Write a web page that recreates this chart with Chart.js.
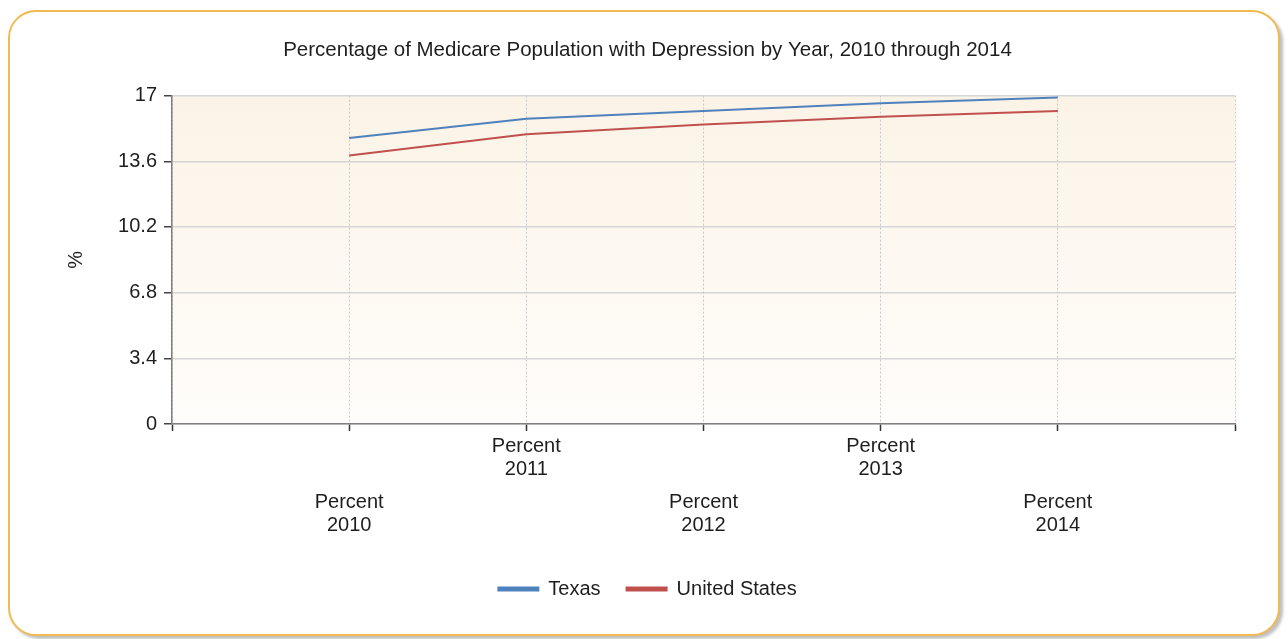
<!DOCTYPE html>
<html>
<head>
<meta charset="utf-8">
<script src="https://cdn.jsdelivr.net/npm/chart.js@4.4.1/dist/chart.umd.min.js"></script>
<style>
  html, body { margin: 0; padding: 0; background: #fff; }
  body { width: 1288px; height: 639px; position: relative; overflow: hidden; }
  .card {
    position: absolute; left: 8px; top: 10px; width: 1268px; height: 622px;
    border: 2px solid #f2ba52; border-radius: 28px; background: #fff;
    box-shadow: 3px 3px 3px rgba(0,0,0,0.25);
  }
  #chart { position: absolute; left: 0; top: 0; }
</style>
</head>
<body>
<div class="card"></div>
<canvas id="chart" width="1288" height="639"></canvas>
<script>
// data
const years = [2010, 2011, 2012, 2013, 2014];
const texas = [14.8, 15.8, 16.2, 16.6, 16.9];
const unitedStates = [13.9, 15.0, 15.5, 15.9, 16.2];
const yTicks = [0, 3.4, 6.8, 10.2, 13.6, 17];

const FONT = "'Liberation Sans', Arial, sans-serif";
const TEXT = '#1e1e1e';

// fill the plot area with the pale beige gradient
const plotBackground = {
    id: 'plotBackground',
    beforeDraw(chart) {
        const { ctx, chartArea: a } = chart;
        const g = ctx.createLinearGradient(0, a.top, 0, a.bottom);
        g.addColorStop(0, '#fbf3e6');
        g.addColorStop(1, '#fffdfb');
        ctx.save();
        ctx.fillStyle = g;
        ctx.fillRect(a.left, a.top, a.right - a.left, a.bottom - a.top);
        ctx.restore();
    }
};

function yearLabel(v, row) {
    const i = years.indexOf(v);
    if (i < 0 || i % 2 !== row) return '';
    return ['Percent', String(v)];
}

const ctx = document.getElementById('chart').getContext('2d');
new Chart(ctx, {
    type: 'line',
    data: {
        datasets: [{
            label: 'Texas',
            data: years.map((y, i) => ({ x: y, y: texas[i] })),
            borderColor: '#4f81bd',
            backgroundColor: '#4f81bd',
            borderWidth: 2,
            pointRadius: 0,
            tension: 0
        }, {
            label: 'United States',
            data: years.map((y, i) => ({ x: y, y: unitedStates[i] })),
            borderColor: '#c0504d',
            backgroundColor: '#c0504d',
            borderWidth: 2,
            pointRadius: 0,
            tension: 0
        }]
    },
    options: {
        responsive: false,
        animation: false,
        layout: { padding: { left: 60, right: 53, top: 30, bottom: 30 } },
        plugins: {
            title: {
                display: true,
                text: 'Percentage of Medicare Population with Depression by Year, 2010 through 2014',
                color: TEXT,
                font: { family: FONT, size: 20.5, weight: 'normal', lineHeight: 1.2 },
                padding: { top: 8, bottom: 33 }
            },
            legend: {
                position: 'bottom',
                labels: {
                    color: TEXT,
                    font: { family: FONT, size: 20 },
                    boxWidth: 40,
                    boxHeight: 3,
                    padding: 26
                }
            },
            tooltip: { enabled: false }
        },
        scales: {
            y: {
                min: 0,
                max: 17,
                afterBuildTicks: axis => { axis.ticks = yTicks.map(v => ({ value: v })); },
                afterFit: axis => { axis.width = 112; },
                title: {
                    display: true,
                    text: '%',
                    color: TEXT,
                    font: { family: FONT, size: 20 },
                    padding: { top: 4, bottom: 0 }
                },
                ticks: {
                    color: TEXT,
                    font: { family: FONT, size: 20 },
                    padding: 7
                },
                grid: { color: '#d6d6d6', lineWidth: 1.5, tickColor: '#444', tickLength: 8 },
                border: { color: '#808080', width: 1.5 }
            },
            x: {
                type: 'linear',
                min: 2009,
                max: 2015,
                weight: 0,
                afterFit: axis => { axis.height = 51; },
                ticks: {
                    stepSize: 1,
                    autoSkip: false,
                    maxRotation: 0,
                    color: TEXT,
                    font: { family: FONT, size: 20, lineHeight: 1.15 },
                    padding: 4,
                    callback: v => yearLabel(v, 1)
                },
                grid: { color: '#c9c9c9', lineWidth: 1, tickColor: '#333', tickLength: 7, tickWidth: 1.5 },
                border: { color: '#808080', width: 1.5, dash: [2, 2] }
            },
            x2: {
                type: 'linear',
                position: 'bottom',
                min: 2009,
                max: 2015,
                weight: 1,
                afterFit: axis => { axis.height = 78; },
                ticks: {
                    stepSize: 1,
                    autoSkip: false,
                    maxRotation: 0,
                    color: TEXT,
                    font: { family: FONT, size: 20, lineHeight: 1.15 },
                    padding: 8,
                    callback: v => yearLabel(v, 0)
                },
                grid: { display: false },
                border: { display: false }
            }
        }
    },
    plugins: [plotBackground]
});
</script>
</body>
</html>
